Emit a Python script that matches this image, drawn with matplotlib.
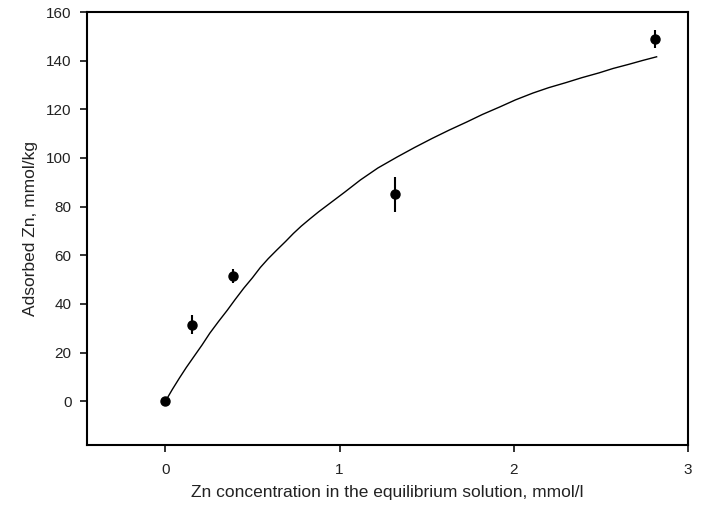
import matplotlib
matplotlib.use("Agg")
import matplotlib.pyplot as plt

plt.rcParams['font.family'] = ['Liberation Sans', 'DejaVu Sans']

# measured points
conc = [0.0, 0.15, 0.39, 1.32, 2.81]
adsorbed = [0.0, 31.5, 51.5, 85.0, 149.0]
err = [1.5, 4.0, 3.0, 7.0, 3.7]

# fitted curve
fit_x = [0.0, 0.04, 0.08, 0.12, 0.16, 0.21, 0.255, 0.305, 0.355, 0.40, 0.45, 0.50,
         0.545, 0.59, 0.64, 0.69, 0.735, 0.78, 0.83, 0.88, 0.93, 0.98, 1.03, 1.075,
         1.12, 1.22, 1.33, 1.43, 1.53, 1.63, 1.73, 1.82, 1.92, 2.01, 2.11, 2.2,
         2.3, 2.39, 2.49, 2.57, 2.66, 2.74, 2.82]
fit_y = [0.0, 4.9, 9.5, 13.9, 18.0, 23.1, 28.0, 32.8, 37.4, 41.8, 46.5, 50.8,
         55.0, 58.6, 62.2, 65.7, 69.0, 72.0, 75.0, 77.9, 80.6, 83.3, 86.0, 88.5,
         91.0, 95.9, 100.4, 104.3, 108.0, 111.5, 114.8, 117.9, 121.0, 123.9, 126.7, 128.9,
         131.0, 133.0, 135.0, 136.8, 138.5, 140.1, 141.6]

fig = plt.figure(figsize=(7.15, 5.23), dpi=100)
ax = fig.add_axes([0.1217, 0.149, 0.8405, 0.828])

ax.plot(fit_x, fit_y, color='black', linewidth=1.0)
ax.errorbar(conc, adsorbed, yerr=err, fmt='o', color='black', markersize=6.5,
            elinewidth=1.5, capsize=0)

ax.set_xlim(-0.45, 3)
ax.set_ylim(-18, 160)
ax.set_xticks([0, 1, 2, 3])
ax.set_yticks([0, 20, 40, 60, 80, 100, 120, 140, 160])

for s in ax.spines.values():
    s.set_linewidth(1.5)
ax.tick_params(direction='out', length=5, width=1.3, labelsize=11, colors='#222222')
ax.tick_params(axis='x', pad=8)
ax.tick_params(axis='y', pad=6)

ax.set_xlabel('Zn concentration in the equilibrium solution, mmol/l', fontsize=12.5,
              color='#222222', labelpad=6)
ax.set_ylabel('Adsorbed Zn, mmol/kg', fontsize=12.5, color='#222222', labelpad=6)

fig.savefig('out.png', dpi=100)
